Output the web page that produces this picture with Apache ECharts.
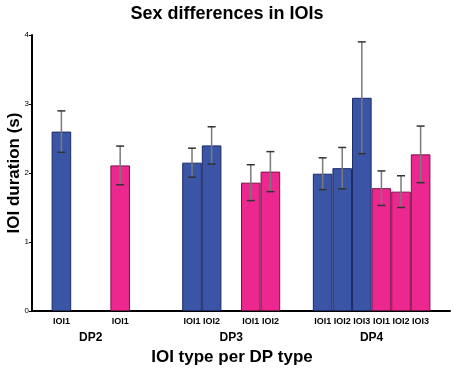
<!DOCTYPE html>
<html>
<head>
<meta charset="utf-8">
<script src="https://cdn.jsdelivr.net/npm/echarts@6/dist/echarts.min.js"></script>
<style>
  html, body { margin: 0; padding: 0; background: #fff; }
  #chart { width: 454px; height: 372px; }
</style>
</head>
<body>
<div id="chart"></div>
<script>
// data
const groups = ['DP2', 'DP3', 'DP4'];
const ioiTypes = [['IOI1'], ['IOI1', 'IOI2'], ['IOI1', 'IOI2', 'IOI3']];
const maleMean = [[2.60], [2.15, 2.40], [1.99, 2.07, 3.09]];
const maleErr = [[0.30], [0.21, 0.27], [0.23, 0.30, 0.81]];
const femaleMean = [[2.11], [1.86, 2.02], [1.78, 1.73, 2.27]];
const femaleErr = [[0.28], [0.26, 0.29], [0.25, 0.23, 0.41]];
const yTicks = [0, 1, 2, 3, 4];

// layout: axis split in thin slots, each bar is 3 slots wide
const barSlots = 3;
const totalSlots = 64;
const gapBeforeMale = [3, 8, 5];
const gapBeforeFemale = [6, 3, 0];

const cats = new Array(totalSlots).fill('');
const maleData = new Array(totalSlots).fill('-');
const femaleData = new Array(totalSlots).fill('-');
const errData = [];
const groupSpan = [];

let pos = 0;
groups.forEach((g, gi) => {
  let first = null, last = null;
  [[maleMean, maleErr, maleData, gapBeforeMale], [femaleMean, femaleErr, femaleData, gapBeforeFemale]].forEach(([mean, err, target, gaps]) => {
    pos += gaps[gi];
    ioiTypes[gi].forEach((t, k) => {
      const c = pos + 1;
      cats[c] = t;
      target[c] = mean[gi][k];
      errData.push([c, mean[gi][k] - err[gi][k], mean[gi][k] + err[gi][k]]);
      if (first === null) first = c;
      last = c;
      pos += barSlots;
    });
  });
  groupSpan.push([first, last, gi]);
});

const chart = echarts.init(document.getElementById('chart'));
const font = 'Liberation Sans, Arial, sans-serif';

chart.setOption({
  animation: false,
  textStyle: { fontFamily: font },
  title: {
    text: 'Sex differences in IOIs',
    left: 'center',
    top: 0,
    textStyle: { fontSize: 18, fontWeight: 'bold', color: '#000', fontFamily: font }
  },
  grid: { left: 32, right: 4, top: 35, bottom: 61, outerBoundsMode: 'none', containLabel: false },
  xAxis: {
    type: 'category',
    data: cats,
    boundaryGap: true,
    name: 'IOI type per DP type',
    nameLocation: 'middle',
    nameGap: 38,
    nameMoveOverlap: false,
    nameTextStyle: { fontSize: 17, fontWeight: 'bold', color: '#000', padding: [0, 18, 0, 0] },
    axisLine: { lineStyle: { color: '#000', width: 2 } },
    axisTick: {
      alignWithLabel: true,
      interval: (i, v) => v !== '',
      length: 4,
      lineStyle: { color: '#000', width: 1.5 }
    },
    axisLabel: { interval: 0, fontSize: 9, fontWeight: 'bold', color: '#000', margin: 6 }
  },
  yAxis: {
    type: 'value',
    min: yTicks[0],
    max: yTicks[yTicks.length - 1],
    interval: 1,
    name: 'IOI duration (s)',
    nameLocation: 'middle',
    nameRotate: 90,
    nameGap: 9,
    nameMoveOverlap: false,
    nameTextStyle: { fontSize: 17, fontWeight: 'bold', color: '#000' },
    splitLine: { show: false },
    axisLine: { show: true, lineStyle: { color: '#000', width: 2 } },
    axisTick: { show: true, length: 3, lineStyle: { color: '#000', width: 1 } },
    axisLabel: { fontSize: 8, color: '#000', margin: 3 }
  },
  series: [
    {
      type: 'bar',
      data: maleData,
      barWidth: '300%',
      barGap: '-100%',
      itemStyle: { color: '#3a55a5', borderColor: '#1c2a66', borderWidth: 1 }
    },
    {
      type: 'bar',
      data: femaleData,
      barWidth: '300%',
      barGap: '-100%',
      itemStyle: { color: '#ec2890', borderColor: '#7e1048', borderWidth: 1 }
    },
    {
      type: 'custom',
      data: errData,
      encode: { x: 0, y: [1, 2] },
      z: 10,
      renderItem: (params, api) => {
        const lo = api.coord([api.value(0), api.value(1)]);
        const hi = api.coord([api.value(0), api.value(2)]);
        const half = 4;
        return {
          type: 'group',
          children: [
            { type: 'line', shape: { x1: lo[0], y1: lo[1], x2: hi[0], y2: hi[1] }, style: { stroke: '#7a7a7a', lineWidth: 1.5 } },
            { type: 'line', shape: { x1: lo[0] - half, y1: lo[1], x2: lo[0] + half, y2: lo[1] }, style: { stroke: '#333', lineWidth: 1.5 } },
            { type: 'line', shape: { x1: hi[0] - half, y1: hi[1], x2: hi[0] + half, y2: hi[1] }, style: { stroke: '#333', lineWidth: 1.5 } }
          ]
        };
      }
    },
    {
      type: 'custom',
      data: groupSpan,
      encode: { x: 0 },
      clip: false,
      silent: true,
      renderItem: (params, api) => {
        const a = api.coord([api.value(0), 0]);
        const b = api.coord([api.value(1), 0]);
        return {
          type: 'text',
          style: {
            text: groups[api.value(2)],
            x: (a[0] + b[0]) / 2,
            y: a[1] + 27,
            align: 'center',
            verticalAlign: 'middle',
            fontSize: 12,
            fontWeight: 'bold',
            fontFamily: font,
            fill: '#000'
          }
        };
      }
    }
  ]
});
</script>
</body>
</html>
